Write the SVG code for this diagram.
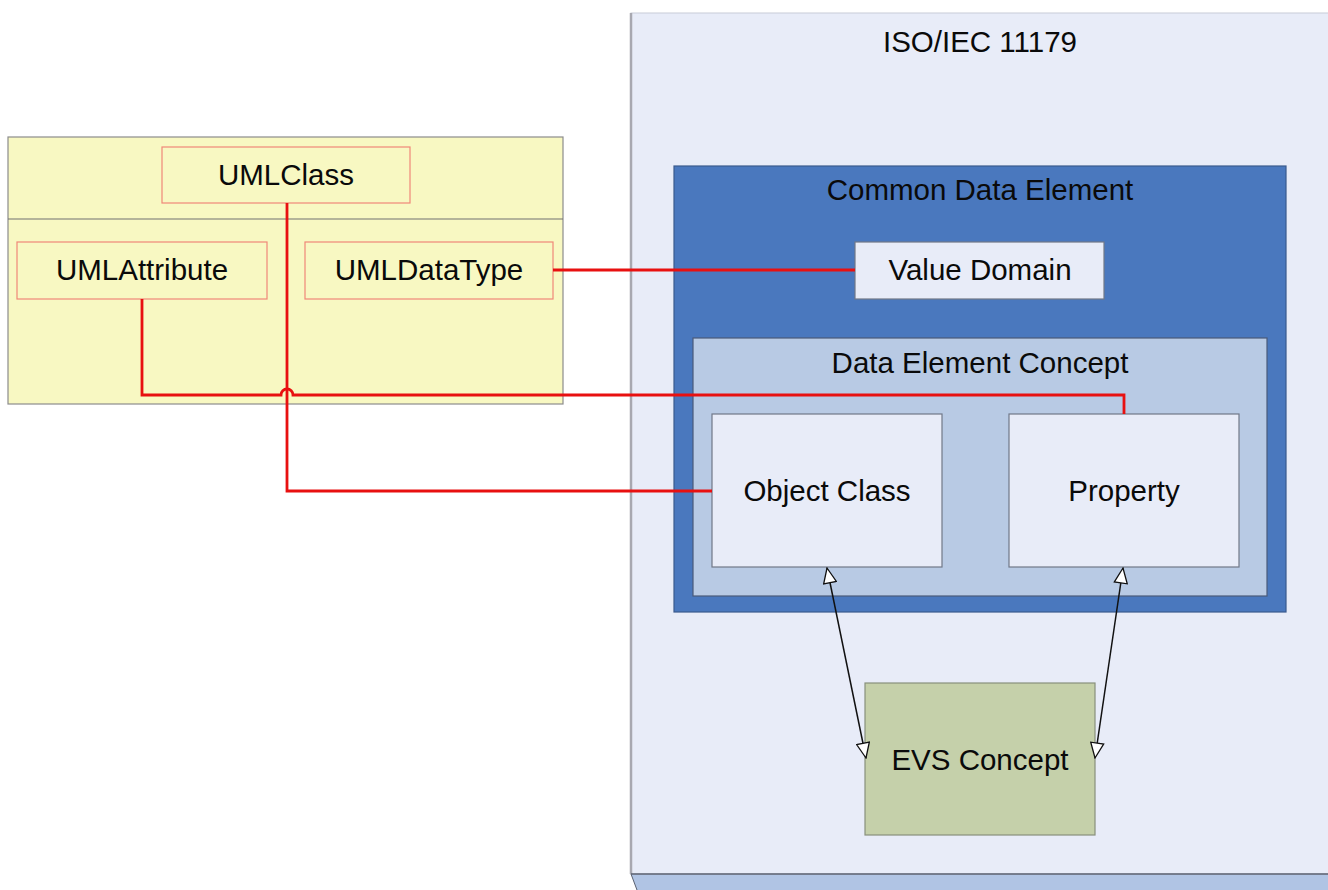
<svg xmlns="http://www.w3.org/2000/svg" width="1328" height="890" viewBox="0 0 1328 890">
  <style>
    text { font-family: "Liberation Sans", Arial, sans-serif; font-size: 29.5px; fill: #0a0a0a; text-anchor: middle; }
    .uml-inner { fill: #f8f8c2; stroke: #f08878; stroke-width: 1.2; }
    .light { fill: #e8ecf8; stroke: #707888; stroke-width: 1.2; }
    .red { fill: none; stroke: #e81010; stroke-width: 2.8; }
    .blk { fill: none; stroke: #111; stroke-width: 1.5; marker-start: url(#tri); marker-end: url(#tri); }
  </style>
  <defs>
    <marker id="tri" viewBox="0 0 17 15" refX="16" refY="7.5" markerWidth="17" markerHeight="15" markerUnits="userSpaceOnUse" orient="auto-start-reverse">
      <path d="M1,1 L16,7.5 L1,14 Z" fill="#fff" stroke="#111" stroke-width="1.3"/>
    </marker>
  </defs>

  <rect width="1328" height="890" fill="#ffffff"/>

  <!-- ISO/IEC 11179 panel -->
  <g id="iso">
    <path d="M631,874 L1328,874 L1328,890 L637,890 Z" fill="#b0c4e4"/>
    <rect x="631" y="13" width="698" height="861" fill="#e8ecf8" stroke="#c8ccd8" stroke-width="1"/>
    <line x1="631" y1="13" x2="631" y2="874" stroke="#a8a8b0" stroke-width="2.5"/>
    <line x1="631" y1="874" x2="1328" y2="874" stroke="#5a6070" stroke-width="1.5"/>
    <line x1="631" y1="874" x2="637" y2="890" stroke="#5a6070" stroke-width="1"/>
    <text x="980" y="52">ISO/IEC 11179</text>
  </g>

  <!-- UML container -->
  <g id="uml">
    <rect x="8" y="137" width="555" height="267" fill="#f8f8c2" stroke="#8c8c8c" stroke-width="1.2"/>
    <line x1="8" y1="219" x2="563" y2="219" stroke="#707070" stroke-width="1.2"/>
  </g>
  <g id="umlclass">
    <rect class="uml-inner" x="162" y="147" width="248" height="56"/>
    <text x="286" y="185">UMLClass</text>
  </g>
  <g id="umlattribute">
    <rect class="uml-inner" x="17" y="242" width="250" height="57"/>
    <text x="142" y="280">UMLAttribute</text>
  </g>
  <g id="umldatatype">
    <rect class="uml-inner" x="305" y="242" width="248" height="57"/>
    <text x="429" y="280">UMLDataType</text>
  </g>

  <!-- Common Data Element -->
  <g id="cde">
    <rect x="674" y="166" width="612" height="446" fill="#4a78be" stroke="#3a5a8e" stroke-width="1.2"/>
    <text x="980" y="200">Common Data Element</text>
  </g>
  <g id="valuedomain">
    <rect class="light" x="855" y="242" width="249" height="57"/>
    <text x="980" y="280">Value Domain</text>
  </g>
  <g id="dec">
    <rect x="693" y="338" width="574" height="258" fill="#b8cae4" stroke="#4a5a7a" stroke-width="1.2"/>
    <text x="980" y="373">Data Element Concept</text>
  </g>
  <g id="objectclass">
    <rect class="light" x="712" y="414" width="230" height="153"/>
    <text x="827" y="501">Object Class</text>
  </g>
  <g id="property">
    <rect class="light" x="1009" y="414" width="230" height="153"/>
    <text x="1124" y="501">Property</text>
  </g>
  <g id="evs">
    <rect x="865" y="683" width="230" height="152" fill="#c5d0aa" stroke="#88907c" stroke-width="1.2"/>
    <text x="980" y="770">EVS Concept</text>
  </g>

  <!-- connectors -->
  <g id="connectors">
    <path class="red" d="M553,270 L855,270"/>
    <path class="red" d="M142,299 L142,395 L281,395 A6,6 0 0 1 293,395 L1124,395 L1124,414"/>
    <path class="red" d="M287,203 L287,491 L712,491"/>
    <path class="blk" d="M827,568 L866,758"/>
    <path class="blk" d="M1123,568 L1095,758"/>
  </g>
</svg>
